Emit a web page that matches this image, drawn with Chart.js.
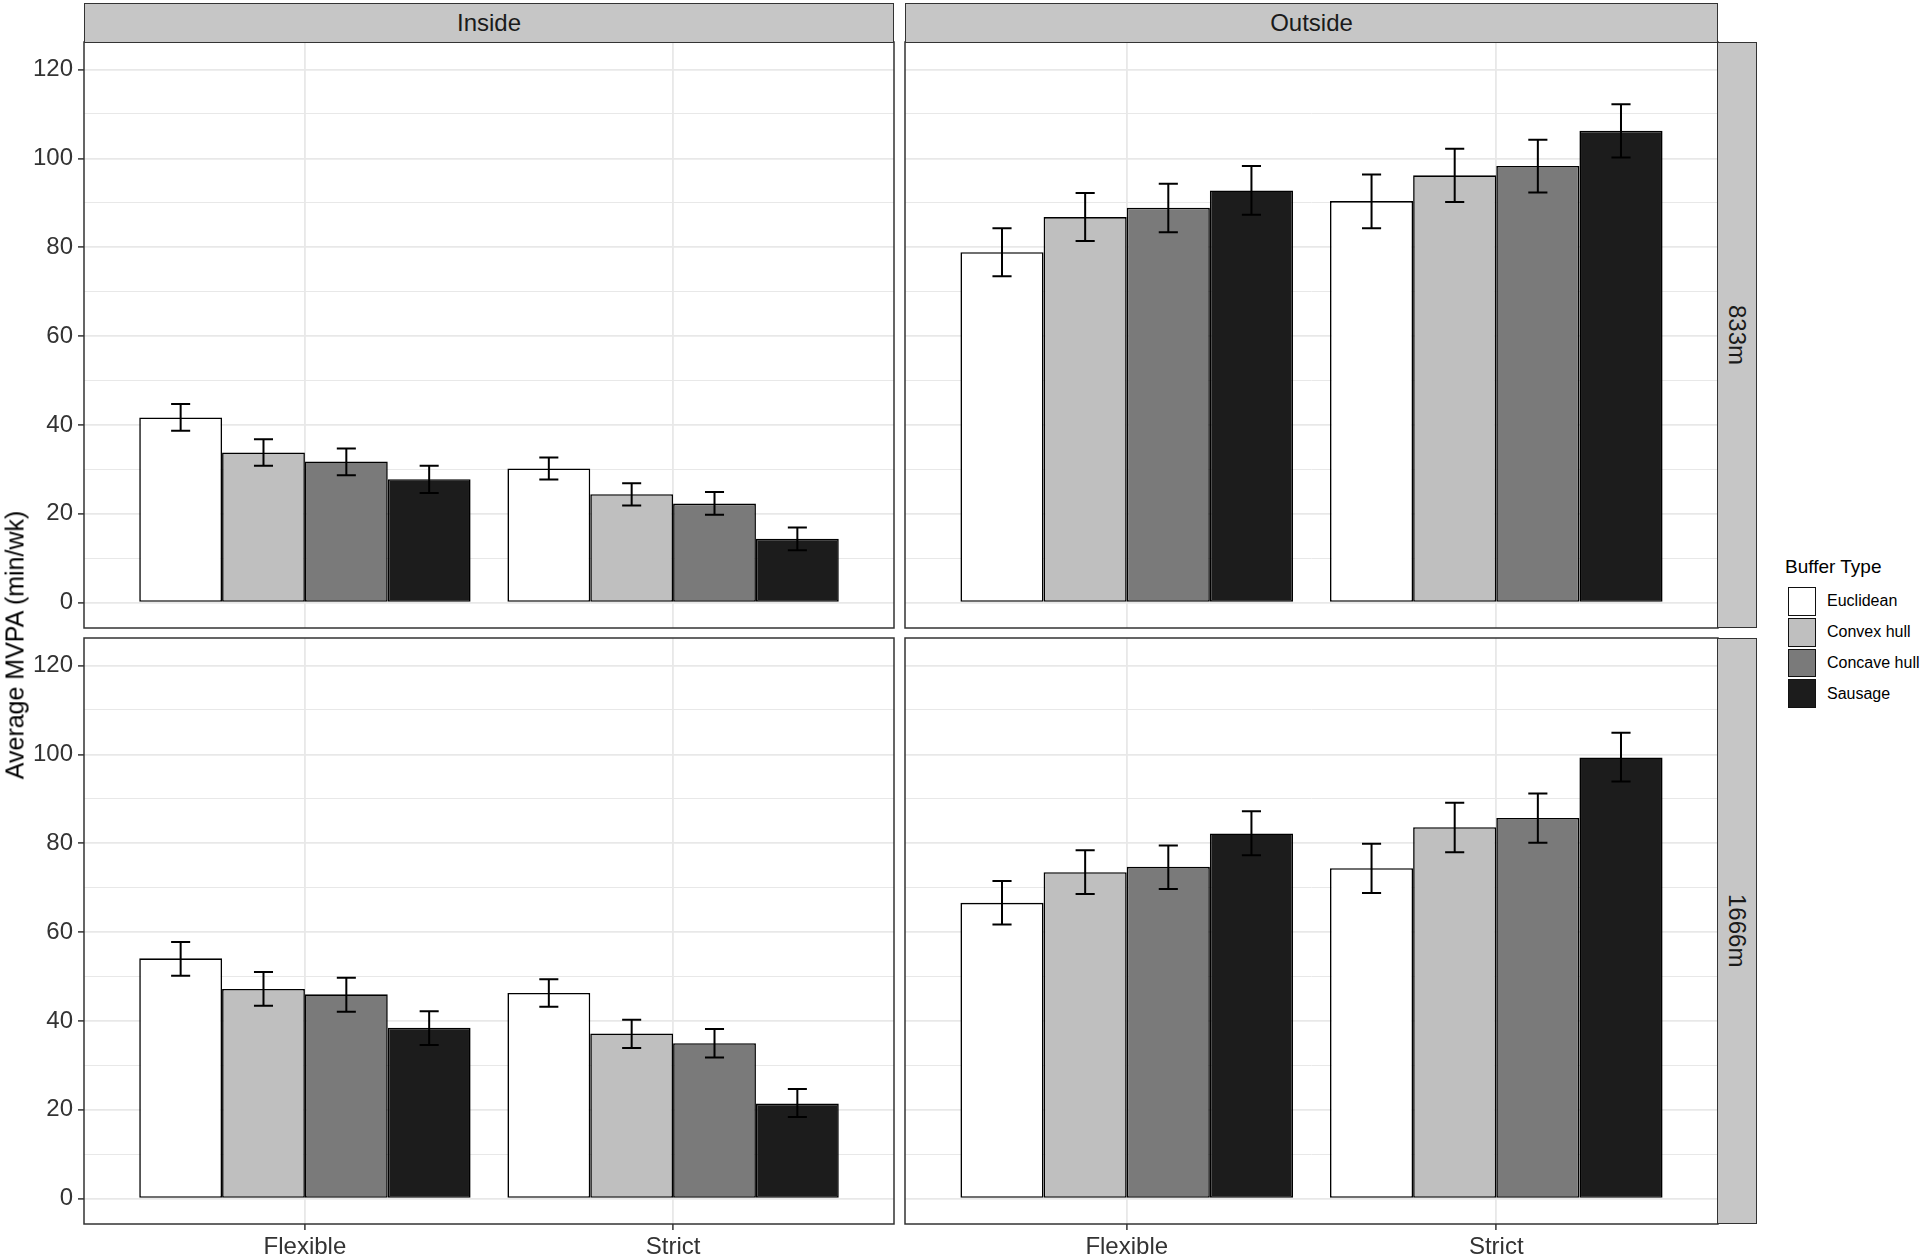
<!DOCTYPE html>
<html>
<head>
<meta charset="utf-8">
<script src="https://cdn.jsdelivr.net/npm/chart.js@4.4.1/dist/chart.umd.min.js"></script>
<style>
  body { margin: 0; width: 1920px; height: 1256px; position: relative; overflow: hidden; background: #fff;
         font-family: 'Liberation Sans', Arial, sans-serif; }
  canvas { position: absolute; }
  .strip { position: absolute; box-sizing: border-box; background: #c6c6c6; border: 1.5px solid #333;
           color: #1a1a1a; font-size: 24px; display: flex; align-items: center; justify-content: center; }
  .strip.v { writing-mode: vertical-rl; }
  #ytitle { position: absolute; left: 15px; top: 645px; transform: translate(-50%, -50%) rotate(-90deg);
            font-size: 25px; color: #000; white-space: nowrap; }
  #legend { position: absolute; left: 1785px; top: 555px; color: #000; }
  #legend .title { font-size: 19px; height: 31px; line-height: 24px; }
  #legend .row { display: flex; align-items: center; height: 30.75px; }
  #legend .key { width: 30px; height: 30.75px; box-sizing: border-box; padding: 1px; margin-left: 2px; }
  #legend .key div { width: 100%; height: 100%; box-sizing: border-box; border: 1.8px solid #111; }
  #legend .lab { font-size: 16px; margin-left: 10px; }
</style>
</head>
<body>
<canvas id="tl" width="900" height="598" style="left:0;top:36px"></canvas>
<canvas id="tr" width="825" height="598" style="left:899px;top:36px"></canvas>
<canvas id="bl" width="900" height="624" style="left:0;top:632px"></canvas>
<canvas id="br" width="825" height="624" style="left:899px;top:632px"></canvas>

<div class="strip" style="left:84px;top:3px;width:810px;height:40px">Inside</div>
<div class="strip" style="left:905px;top:3px;width:813px;height:40px">Outside</div>
<div class="strip v" style="left:1717px;top:42px;width:40px;height:586px">833m</div>
<div class="strip v" style="left:1717px;top:638px;width:40px;height:586px">1666m</div>
<div id="ytitle">Average MVPA (min/wk)</div>
<div id="legend"></div>

<script>
const categories = ['Flexible', 'Strict'];
const bufferTypes = ['Euclidean', 'Convex hull', 'Concave hull', 'Sausage'];
const fills = ['#ffffff', '#bfbfbf', '#7a7a7a', '#1c1c1c'];
const yTicks = [0, 10, 20, 30, 40, 50, 60, 70, 80, 90, 100, 110, 120];

// one row per buffer type, values for [Flexible, Strict]
const inside833 = [[41.7, 30.2], [33.8, 24.4], [31.8, 22.3], [27.8, 14.4]];
const inside833Lo = [[38.7, 27.7], [30.8, 21.9], [28.7, 19.8], [24.7, 11.8]];
const inside833Hi = [[44.7, 32.7], [36.8, 26.9], [34.7, 24.9], [30.8, 16.9]];

const outside833 = [[78.9, 90.4], [86.8, 96.2], [88.9, 98.3], [92.8, 106.2]];
const outside833Lo = [[73.5, 84.3], [81.4, 90.2], [83.4, 92.3], [87.3, 100.2]];
const outside833Hi = [[84.3, 96.4], [92.2, 102.2], [94.3, 104.2], [98.3, 112.2]];

const inside1666 = [[54.1, 46.3], [47.2, 37.2], [46.0, 35.0], [38.5, 21.4]];
const inside1666Lo = [[50.2, 43.2], [43.4, 33.9], [42.1, 31.8], [34.6, 18.4]];
const inside1666Hi = [[57.8, 49.4], [51.0, 40.3], [49.7, 38.2], [42.2, 24.7]];

const outside1666 = [[66.6, 74.4], [73.5, 83.6], [74.7, 85.7], [82.2, 99.3]];
const outside1666Lo = [[61.7, 68.8], [68.6, 78.0], [69.7, 80.1], [77.3, 93.9]];
const outside1666Hi = [[71.5, 79.9], [78.4, 89.1], [79.5, 91.2], [87.2, 104.9]];

const FONT = "'Liberation Sans', Arial, sans-serif";
const GRID = '#e8e8e8';

const errorBars = {
  id: 'errorBars',
  afterDatasetsDraw(chart) {
    const ctx = chart.ctx;
    const y = chart.scales.y;
    ctx.save();
    ctx.strokeStyle = '#000';
    ctx.lineWidth = 2;
    chart.data.datasets.forEach((ds, di) => {
      chart.getDatasetMeta(di).data.forEach((bar, i) => {
        const top = y.getPixelForValue(ds.hi[i]);
        const bot = y.getPixelForValue(ds.lo[i]);
        const half = bar.width * 0.115;
        ctx.beginPath();
        ctx.moveTo(bar.x, top); ctx.lineTo(bar.x, bot);
        ctx.moveTo(bar.x - half, top); ctx.lineTo(bar.x + half, top);
        ctx.moveTo(bar.x - half, bot); ctx.lineTo(bar.x + half, bot);
        ctx.stroke();
      });
    });
    ctx.restore();
  }
};

const panelBorder = {
  id: 'panelBorder',
  afterDraw(chart) {
    const { ctx, chartArea: a } = chart;
    ctx.save();
    ctx.strokeStyle = '#333';
    ctx.lineWidth = 1.5;
    ctx.strokeRect(a.left, a.top, a.right - a.left, a.bottom - a.top);
    ctx.restore();
  }
};

function makePanel(id, means, lo, hi, left, bottom) {
  const datasets = bufferTypes.map((name, b) => ({
    label: name,
    data: categories.map((c, i) => ({ x: i + 1, y: means[b][i] })),
    lo: lo[b],
    hi: hi[b],
    backgroundColor: fills[b],
    borderColor: '#000',
    borderWidth: 1.6,
    borderSkipped: false,
    categoryPercentage: 0.9,
    barPercentage: 1.0
  }));

  return new Chart(document.getElementById(id), {
    type: 'bar',
    data: { datasets },
    options: {
      responsive: false,
      animation: false,
      layout: { padding: { top: 6, right: 6, bottom: bottom ? 0 : 6, left: left ? 0 : 6 } },
      plugins: { legend: { display: false }, tooltip: { enabled: false } },
      scales: {
        x: {
          type: 'linear',
          offset: false,
          min: 0.4,
          max: 2.6,
          afterBuildTicks: (scale) => { scale.ticks = categories.map((c, i) => ({ value: i + 1 })); },
          afterFit: (scale) => {
            scale.height = bottom ? 32 : 0;
            scale.paddingLeft = 0;
            scale.paddingRight = 0;
          },
          border: { display: false },
          grid: { offset: false, color: GRID, lineWidth: 1.8, drawTicks: bottom, tickLength: 6, tickColor: '#333', tickWidth: 1.5 },
          ticks: {
            display: bottom,
            padding: 3,
            color: '#333',
            font: { family: FONT, size: 24 },
            maxRotation: 0,
            autoSkip: false,
            callback: (v) => categories[v - 1]
          }
        },
        y: {
          min: -5.7,
          max: 126.2,
          afterBuildTicks: (scale) => { scale.ticks = yTicks.map(v => ({ value: v })); },
          afterFit: (scale) => {
            scale.width = left ? 84 : 0;
            scale.paddingTop = 0;
            scale.paddingBottom = 0;
          },
          border: { display: false },
          grid: {
            color: GRID,
            lineWidth: (c) => (c.tick && c.tick.value % 20 === 0 ? 1.8 : 1),
            drawTicks: left,
            tickLength: 6,
            tickWidth: 1.5,
            tickColor: (c) => (c.tick && c.tick.value % 20 === 0 ? '#333' : 'rgba(0,0,0,0)')
          },
          ticks: {
            display: left,
            padding: 5,
            color: '#333',
            font: { family: FONT, size: 24 },
            autoSkip: false,
            callback: (v) => (v % 20 === 0 ? String(v) : '')
          }
        }
      }
    },
    plugins: [errorBars, panelBorder]
  });
}

makePanel('tl', inside833, inside833Lo, inside833Hi, true, false);
makePanel('tr', outside833, outside833Lo, outside833Hi, false, false);
makePanel('bl', inside1666, inside1666Lo, inside1666Hi, true, true);
makePanel('br', outside1666, outside1666Lo, outside1666Hi, false, true);

const legend = document.getElementById('legend');
legend.innerHTML = '<div class="title">Buffer Type</div>' + bufferTypes.map((name, b) =>
  `<div class="row"><div class="key"><div style="background:${fills[b]}"></div></div><span class="lab">${name}</span></div>`
).join('');
</script>
</body>
</html>
